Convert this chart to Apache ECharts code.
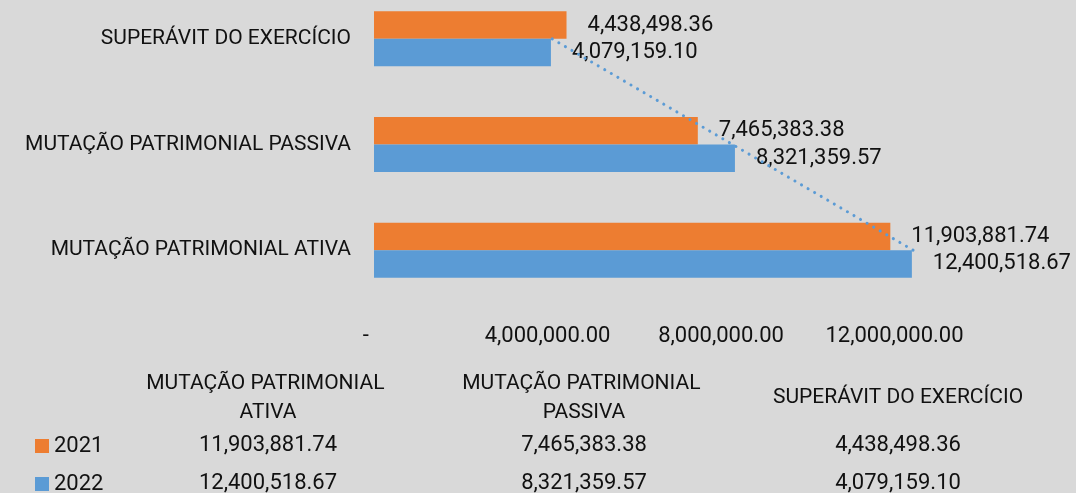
<!DOCTYPE html>
<html>
<head>
<meta charset="utf-8">
<script src="https://cdn.jsdelivr.net/npm/echarts@6/dist/echarts.min.js"></script>
<style>
  html, body { margin: 0; padding: 0; background: #d9d9d9; }
  #chart { width: 1076px; height: 493px; }
</style>
</head>
<body>
<div id="chart"></div>
<script>
// Categories listed bottom-to-top on the vertical axis
const categories = ['MUTAÇÃO PATRIMONIAL ATIVA', 'MUTAÇÃO PATRIMONIAL PASSIVA', 'SUPERÁVIT DO EXERCÍCIO'];
const seriesNames = ['2021', '2022'];
const values2021 = [11903881.74, 7465383.38, 4438498.36];
const values2022 = [12400518.67, 8321359.57, 4079159.10];
const axisTicks = [0, 4000000, 8000000, 12000000];

const colors = ['#ED7D31', '#5B9BD5'];
const textColor = '#111111';
const font = 'Roboto';
const textSize = 21;   // category names and headers
const numSize = 22;    // numbers

const fmt = v => v.toLocaleString('en-US', { minimumFractionDigits: 2, maximumFractionDigits: 2 });

// Linear trendline (least squares) of the 2022 series over category positions 1..n
function linearFit(ys) {
  const n = ys.length;
  const xs = ys.map((_, i) => i + 1);
  const mx = xs.reduce((a, b) => a + b, 0) / n;
  const my = ys.reduce((a, b) => a + b, 0) / n;
  let sxy = 0, sxx = 0;
  for (let i = 0; i < n; i++) { sxy += (xs[i] - mx) * (ys[i] - my); sxx += (xs[i] - mx) * (xs[i] - mx); }
  const slope = sxy / sxx;
  return xs.map(x => my + slope * (x - mx));
}
const trend2022 = linearFit(values2022);

const tickStep = axisTicks[1] - axisTicks[0];
const axisMax = axisTicks[axisTicks.length - 1] + tickStep;

// Data table below the plot
const colCenters = [268, 584, 898];
const rowY = [445, 483];
const tableText = [];
categories.forEach((c, i) => {
  tableText.push({
    type: 'text', x: colCenters[i], y: 398,
    style: { text: c, width: 300, overflow: 'break', align: 'center', verticalAlign: 'middle',
             lineHeight: 29, fill: textColor, font: textSize + 'px ' + font }
  });
  [values2021, values2022].forEach((vals, r) => {
    tableText.push({
      type: 'text', x: colCenters[i], y: rowY[r],
      style: { text: fmt(vals[i]), align: 'center', verticalAlign: 'middle',
               fill: textColor, font: numSize + 'px ' + font }
    });
  });
});

// One legend key per table row
const legends = seriesNames.map((name, r) => ({
  data: [name],
  orient: 'vertical', left: 35, top: rowY[r] - 10, padding: 0,
  icon: 'rect', itemWidth: 14, itemHeight: 14,
  textStyle: { color: textColor, fontFamily: font, fontSize: numSize, lineHeight: 20 }
}));

const chart = echarts.init(document.getElementById('chart'), null, { renderer: 'canvas' });

const barLabel = {
  show: true, position: 'right', distance: 21,
  color: textColor, fontFamily: font, fontSize: numSize,
  formatter: p => fmt(p.value)
};

chart.setOption({
  backgroundColor: '#d9d9d9',
  animation: false,
  grid: { left: 374, top: -14, width: 694, height: 317, containLabel: false, outerBoundsMode: 'none' },
  legend: legends,
  xAxis: {
    type: 'value', min: 0, max: axisMax, interval: tickStep,
    axisLine: { show: false }, axisTick: { show: false }, splitLine: { show: false },
    axisLabel: {
      showMaxLabel: false, margin: 22,
      color: textColor, fontFamily: font, fontSize: numSize,
      formatter: v => (v === 0 ? '-   ' : fmt(v))
    }
  },
  yAxis: {
    type: 'category', data: categories,
    axisLine: { show: false }, axisTick: { show: false }, splitLine: { show: false },
    axisLabel: { margin: 23, color: textColor, fontFamily: font, fontSize: textSize }
  },
  series: [
    { name: seriesNames[0], type: 'bar', data: values2021, barWidth: 27.5, barGap: '0%',
      itemStyle: { color: colors[0] }, label: barLabel },
    { name: seriesNames[1], type: 'bar', data: values2022, barWidth: 27.5, barGap: '0%',
      itemStyle: { color: colors[1] }, label: barLabel },
    { name: 'Linear (2022)', type: 'line', data: trend2022, z: 10, symbol: 'none',
      lineStyle: { color: colors[1], width: 3, type: [0.1, 7.5], cap: 'round' } }
  ],
  graphic: tableText
});
</script>
</body>
</html>
